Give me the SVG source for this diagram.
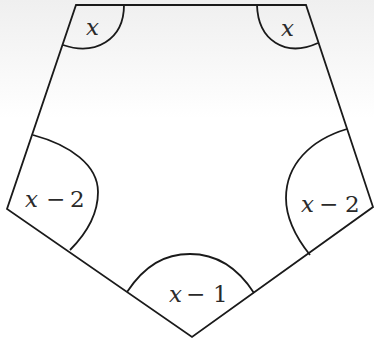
<svg xmlns="http://www.w3.org/2000/svg" width="374" height="339" viewBox="0 0 374 339">
<defs>
<linearGradient id="bg" x1="0" y1="0" x2="0" y2="1">
<stop offset="0" stop-color="#efefef"/>
<stop offset="0.35" stop-color="#ffffff"/>
<stop offset="1" stop-color="#ffffff"/>
</linearGradient>
<style>
.ln{fill:none;stroke:#1a1a1a;stroke-width:1.8;stroke-linejoin:miter}
</style>
</defs>
<rect width="374" height="339" fill="url(#bg)"/>
<g id="pentagon">
<path class="ln" d="M76,5 L306,5 L373,207 L192,337 L7,209 Z"/>
</g>
<g id="connectors">
<path id="arc-top-left" class="ln" d="M124,5 C124,40 95,56 63,45"/>
<path id="arc-top-right" class="ln" d="M257,5 C258,40 285,58 318,43"/>
<path id="arc-left" class="ln" d="M33,135 C70,145 98,165 98,192 C98,215 85,235 70,250"/>
<path id="arc-right" class="ln" d="M347,129 C310,140 286,165 286,198 C286,220 298,240 310,255"/>
<path id="arc-bottom" class="ln" d="M127,292 C145,265 165,254 190,254 C215,254 236,265 254,293"/>
</g>
<g font-family="'DejaVu Serif', serif" font-size="23" fill="#2a2a2a">
<g id="label-top-left"><text font-style="italic" x="86" y="35">x</text></g>
<g id="label-top-right"><text font-style="italic" x="281" y="35.5">x</text></g>
<g id="label-left"><text font-style="italic" x="25" y="207">x</text><text x="46" y="207">−</text><text x="70" y="207">2</text></g>
<g id="label-right"><text font-style="italic" x="301" y="212">x</text><text x="319" y="212">−</text><text x="345" y="212">2</text></g>
<g id="label-bottom"><text font-style="italic" x="169" y="301.5">x</text><text x="186" y="301.5">−</text><text x="213" y="301.5">1</text></g>
</g>
</svg>
